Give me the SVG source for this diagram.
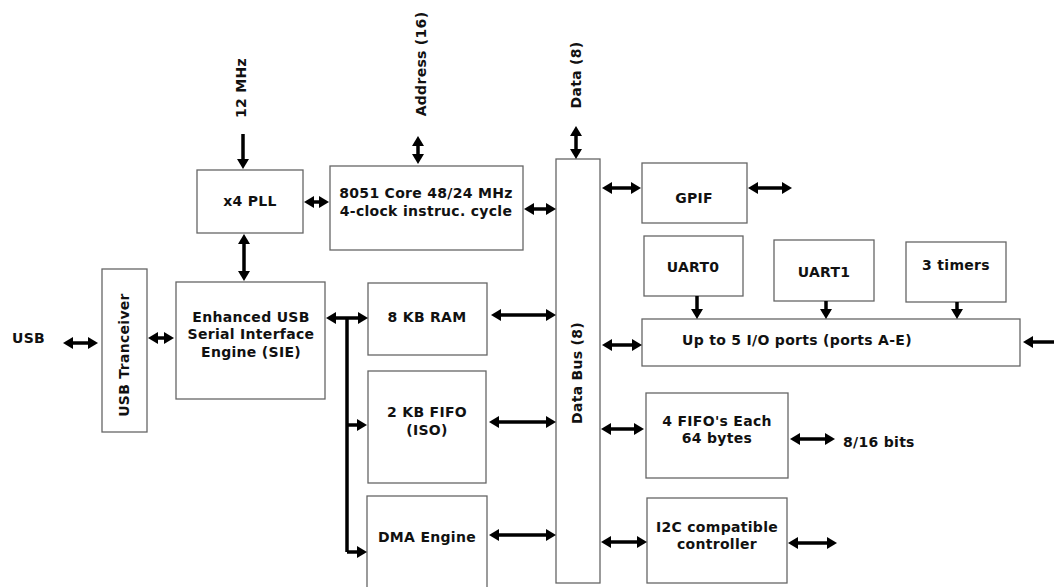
<svg xmlns="http://www.w3.org/2000/svg" width="1054" height="587" viewBox="0 0 1054 587">
<style>
.box{fill:#fff;stroke:#666;stroke-width:1.3}
.t{font-family:"DejaVu Sans","Verdana",sans-serif;font-weight:bold;font-size:14px;letter-spacing:0.3px;fill:#111;text-anchor:middle}
.tl{font-family:"DejaVu Sans","Verdana",sans-serif;font-weight:bold;font-size:14px;letter-spacing:0.3px;fill:#111}
.a{stroke:#000;stroke-width:3.5;fill:none}
.ad{stroke:#000;stroke-width:3.5;fill:none;marker-start:url(#ah);marker-end:url(#ah)}
.a1{stroke:#000;stroke-width:3.5;fill:none;marker-end:url(#ah)}
</style>
<defs>
<marker id="ah" viewBox="0 0 10 12" markerUnits="userSpaceOnUse" markerWidth="10" markerHeight="12" refX="2" refY="6" orient="auto-start-reverse">
<path d="M0,0 L10,6 L0,12 z" fill="#000"/>
</marker>
</defs>

<g id="labels">
<text class="t" transform="translate(246,88) rotate(-90)">12 MHz</text>
<text class="t" transform="translate(426,64) rotate(-90)">Address (16)</text>
<text class="t" transform="translate(581,75) rotate(-90)">Data (8)</text>
<text class="tl" x="12" y="343">USB</text>
<text class="tl" x="843" y="447">8/16 bits</text>
</g>

<g id="pll"><rect class="box" x="197" y="170" width="106" height="63"/><text class="t" x="250" y="206">x4 PLL</text></g>
<g id="core"><rect class="box" x="330" y="166" width="193" height="84"/><text class="t" x="426" y="198">8051 Core 48/24 MHz</text><text class="t" x="426" y="216">4-clock instruc. cycle</text></g>
<g id="tranceiver"><rect class="box" x="102" y="269" width="45" height="163"/><text class="t" transform="translate(129,355) rotate(-90)">USB Tranceiver</text></g>
<g id="sie"><rect class="box" x="176" y="282" width="149" height="117"/><text class="t" x="251" y="322">Enhanced USB</text><text class="t" x="251" y="339">Serial Interface</text><text class="t" x="251" y="357">Engine (SIE)</text></g>
<g id="ram"><rect class="box" x="368" y="283" width="119" height="72"/><text class="t" x="427" y="322">8 KB RAM</text></g>
<g id="fifo2k"><rect class="box" x="368" y="371" width="118" height="112"/><text class="t" x="427" y="417">2 KB FIFO</text><text class="t" x="427" y="435">(ISO)</text></g>
<g id="dma"><rect class="box" x="367" y="496" width="120" height="100"/><text class="t" x="427" y="542">DMA Engine</text></g>
<g id="databus"><rect class="box" x="556" y="159" width="44" height="424"/><text class="t" transform="translate(582,373) rotate(-90)">Data Bus (8)</text></g>
<g id="gpif"><rect class="box" x="642" y="163" width="105" height="60"/><text class="t" x="694" y="203">GPIF</text></g>
<g id="uart0"><rect class="box" x="644" y="236" width="99" height="60"/><text class="t" x="693" y="272">UART0</text></g>
<g id="uart1"><rect class="box" x="774" y="240" width="100" height="61"/><text class="t" x="824" y="277">UART1</text></g>
<g id="timers"><rect class="box" x="906" y="242" width="100" height="60"/><text class="t" x="956" y="270">3 timers</text></g>
<g id="ioports"><rect class="box" x="642" y="319" width="378" height="47"/><text class="t" x="797" y="345">Up to 5 I/O ports (ports A-E)</text></g>
<g id="fifo4"><rect class="box" x="646" y="393" width="142" height="85"/><text class="t" x="717" y="426">4 FIFO's Each</text><text class="t" x="717" y="443">64 bytes</text></g>
<g id="i2c"><rect class="box" x="647" y="498" width="140" height="85"/><text class="t" x="717" y="532">I2C compatible</text><text class="t" x="717" y="549">controller</text></g>

<g id="connectors">
<line class="a1" x1="243" y1="134" x2="243" y2="161"/>
<line class="ad" x1="244" y1="242" x2="244" y2="273"/>
<line class="ad" x1="312" y1="202" x2="321" y2="202"/>
<line class="ad" x1="418" y1="144" x2="418" y2="156"/>
<line class="ad" x1="576" y1="134" x2="576" y2="151"/>
<line class="ad" x1="532" y1="209" x2="548" y2="209"/>
<line class="ad" x1="71" y1="343" x2="90" y2="343"/>
<line class="ad" x1="156" y1="338" x2="166" y2="338"/>
<line class="ad" x1="334" y1="318" x2="360" y2="318"/>
<path class="a" d="M347,318 V552"/>
<path class="a1" d="M347,425 H359"/>
<path class="a1" d="M347,552 H359"/>
<line class="ad" x1="499" y1="315" x2="548" y2="315"/>
<line class="ad" x1="497" y1="422" x2="548" y2="422"/>
<line class="ad" x1="497" y1="535" x2="548" y2="535"/>
<line class="ad" x1="610" y1="188" x2="633" y2="188"/>
<line class="ad" x1="756" y1="188" x2="784" y2="188"/>
<line class="a1" x1="697" y1="296" x2="697" y2="311"/>
<line class="a1" x1="826" y1="301" x2="826" y2="311"/>
<line class="a1" x1="957" y1="302" x2="957" y2="311"/>
<line class="ad" x1="610" y1="345" x2="634" y2="345"/>
<line class="ad" x1="1031" y1="342" x2="1060" y2="342"/>
<line class="ad" x1="609" y1="429" x2="636" y2="429"/>
<line class="ad" x1="798" y1="439" x2="827" y2="439"/>
<line class="ad" x1="609" y1="542" x2="639" y2="542"/>
<line class="ad" x1="796" y1="543" x2="829" y2="543"/>
</g>
</svg>
